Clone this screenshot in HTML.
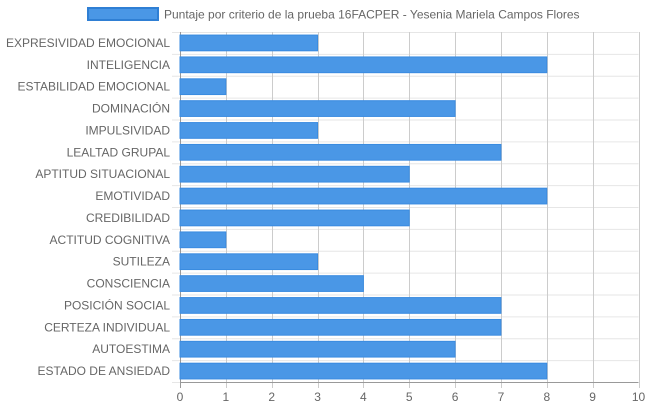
<!DOCTYPE html>
<html><head><meta charset="utf-8"><style>
body{margin:0;background:#fff;}
svg{display:block;font-family:"Liberation Sans",sans-serif;}
</style></head><body>
<svg id="chart" width="648" height="410">
<g>
<rect x="88" y="8" width="70" height="12" fill="#4a97e6" stroke="#2f7fd4" stroke-width="2"/>
<text x="164" y="18.5" font-size="12" fill="#666">Puntaje por criterio de la prueba 16FACPER - Yesenia Mariela Campos Flores</text>
</g>
<g id="grid"></g><g id="bars"></g><g id="labels"></g>
</svg>
<script>
const categories=["EXPRESIVIDAD EMOCIONAL","INTELIGENCIA","ESTABILIDAD EMOCIONAL","DOMINACIÓN","IMPULSIVIDAD","LEALTAD GRUPAL","APTITUD SITUACIONAL","EMOTIVIDAD","CREDIBILIDAD","ACTITUD COGNITIVA","SUTILEZA","CONSCIENCIA","POSICIÓN SOCIAL","CERTEZA INDIVIDUAL","AUTOESTIMA","ESTADO DE ANSIEDAD"];
const values=[3,8,1,6,3,7,5,8,5,1,3,4,7,7,6,8];
const xTicks=[0,1,2,3,4,5,6,7,8,9,10];
const NS="http://www.w3.org/2000/svg";
const X0=180,X1=638.5,Y0=32,Y1=382,xMax=10;
const band=(Y1-Y0)/categories.length;
function xs(v){return X0+(X1-X0)*v/xMax;}
function ys(i){return Y0+band*i;}
function mk(t,a,p){const e=document.createElementNS(NS,t);for(const k in a)e.setAttribute(k,a[k]);p.appendChild(e);return e;}
const grid=document.getElementById('grid'),bars=document.getElementById('bars'),labels=document.getElementById('labels');
for(let i=0;i<=categories.length;i++){
 const l=mk('line',{x1:X0-8,x2:X1,y1:ys(i)+0.5,y2:ys(i)+0.5,stroke:'#e6e6e6'},grid);
 
 
}
xTicks.forEach(t=>{
 const x=Math.round(xs(t))+0.5;
 const l=mk('line',{x1:x,x2:x,y1:Y0,y2:Y1+6,stroke:t===0?'#999':'#ccc'},grid);
 
 
 const tx=mk('text',{x:xs(t),y:Y1+19,'font-size':12,fill:'#666','text-anchor':'middle'},labels);
 tx.textContent=t;
 
 
});
const ax=mk('line',{x1:X0,x2:X1,y1:Y1+0.5,y2:Y1+0.5,stroke:'#999'},grid);


categories.forEach((c,i)=>{
 const bh=band*0.72,cy=ys(i)+band/2;
 const r=mk('rect',{x:X0,y:cy-bh/2,width:xs(values[i])-X0,height:bh,fill:'#4a97e6',stroke:'#3a8be0','stroke-width':1},bars);
 
 
 const t=mk('text',{x:170,y:cy+4,'font-size':12,fill:'#666','text-anchor':'end'},labels);
 t.textContent=c;
 
 
});
</script>
</body></html>
